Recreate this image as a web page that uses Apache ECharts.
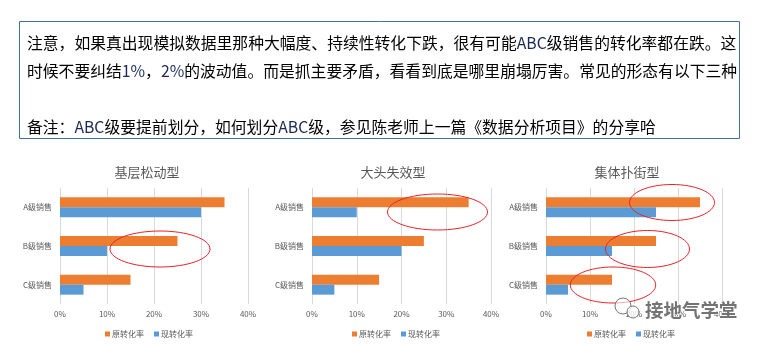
<!DOCTYPE html>
<html>
<head>
<meta charset="utf-8">
<script src="https://cdn.jsdelivr.net/npm/echarts@6/dist/echarts.min.js"></script>
<style>
html,body{margin:0;padding:0;background:#fff;}
#main{width:761px;height:344px;}
</style>
</head>
<body>
<div id="main"></div>
<script>
// ---- data ----
const categories = ['A级销售', 'B级销售', 'C级销售'];
const seriesNames = ['原转化率', '现转化率'];
const chartTitles = ['基层松动型', '大头失效型', '集体扑街型'];
const xTicks = [0, 0.1, 0.2, 0.3, 0.4];
// chart 1: 基层松动型
const oldRate1 = [0.35, 0.25, 0.15];
const newRate1 = [0.30, 0.10, 0.05];
// chart 2: 大头失效型
const oldRate2 = [0.35, 0.25, 0.15];
const newRate2 = [0.10, 0.20, 0.05];
// chart 3: 集体扑街型
const oldRate3 = [0.35, 0.25, 0.15];
const newRate3 = [0.25, 0.15, 0.05];
const noteLines = [
  '注意，如果真出现模拟数据里那种大幅度、持续性转化下跌，很有可能{b|ABC}级销售的转化率都在跌。这',
  '时候不要纠结{b|1%}，{b|2%}的波动值。而是抓主要矛盾，看看到底是哪里崩塌厉害。常见的形态有以下三种',
  '备注：{b|ABC}级要提前划分，如何划分{b|ABC}级，参见陈老师上一篇《数据分析项目》的分享哈'
];
const watermark = '接地气学堂';

const oldData = [oldRate1, oldRate2, oldRate3];
const newData = [newRate1, newRate2, newRate3];

// ---- layout ----
const FONT = '"Noto Sans CJK SC", "Microsoft YaHei", sans-serif';
const ORANGE = '#ED7D31', BLUE = '#5B9BD5', GRAY = '#595959';
const grids = [
  {left: 60, width: 188, top: 188, height: 116},
  {left: 312, width: 179, top: 188, height: 116},
  {left: 546, width: 176, top: 188, height: 116}
];
const titleX = [142, 388, 622];
const legendX = [100, 347, 582];

const chart = echarts.init(document.getElementById('main'));
const option = {
  backgroundColor: '#fff',
  animation: false,
  textStyle: {fontFamily: FONT},
  title: chartTitles.map((t, i) => ({
    text: t, left: titleX[i], top: 161, textAlign: 'center',
    textStyle: {fontSize: 13, fontWeight: 'normal', color: GRAY, fontFamily: FONT}
  })),
  legend: grids.map((g, i) => ({
    data: seriesNames, left: legendX[i], top: 325,
    itemWidth: 5, itemHeight: 5, itemGap: 10, icon: 'rect',
    textStyle: {fontSize: 8, color: GRAY, fontFamily: FONT, padding: [0, 0, 0, -3]}
  })),
  grid: grids.map(g => Object.assign({containLabel: false}, g)),
  xAxis: grids.map((g, i) => ({
    type: 'value', gridIndex: i, min: xTicks[0], max: xTicks[xTicks.length - 1], interval: 0.1,
    axisLine: {show: false}, axisTick: {show: false},
    splitLine: {show: true, lineStyle: {color: '#d9d9d9', width: 1}},
    axisLabel: {fontSize: 8, color: GRAY, margin: 6, fontFamily: FONT,
      formatter: v => Math.round(v * 100) + '%'}
  })),
  yAxis: grids.map((g, i) => ({
    type: 'category', gridIndex: i, data: categories, inverse: true,
    axisLine: {show: false}, axisTick: {show: false}, splitLine: {show: false},
    axisLabel: {fontSize: 8, color: GRAY, margin: 8, fontFamily: FONT}
  })),
  series: [],
  graphic: []
};
for (let i = 0; i < 3; i++) {
  option.series.push({
    name: seriesNames[0], type: 'bar', xAxisIndex: i, yAxisIndex: i,
    data: oldData[i], barWidth: 10, barGap: '0%', itemStyle: {color: ORANGE}
  });
  option.series.push({
    name: seriesNames[1], type: 'bar', xAxisIndex: i, yAxisIndex: i,
    data: newData[i], barWidth: 10, barGap: '0%', itemStyle: {color: BLUE}
  });
}

// text box
const lineY = [43, 71, 127];
option.graphic.push({
  type: 'rect', shape: {x: 19.5, y: 21.5, width: 720, height: 117},
  style: {fill: '#fff', stroke: '#41719C', lineWidth: 1}, z: 1
});
noteLines.forEach((t, i) => {
  option.graphic.push({
    type: 'text', x: 27, y: lineY[i], z: 2,
    style: {text: t, fill: '#000', font: '15.8px ' + FONT, verticalAlign: 'middle',
      rich: {b: {fill: '#1c2a55', fontSize: 15.8, fontFamily: FONT}}}
  });
});
// red annotation ellipses
const ellipses = [
  [160, 249, 50, 18], [437.5, 212, 50, 18],
  [672, 202.5, 42.5, 18], [647.5, 249, 42, 18.5], [613, 285, 42.7, 18]
];
ellipses.forEach(e => {
  option.graphic.push({
    type: 'ellipse', shape: {cx: e[0], cy: e[1], rx: e[2], ry: e[3]},
    style: {fill: 'none', stroke: '#E8222A', lineWidth: 1}, z: 10
  });
});
// watermark
option.graphic.push({
  type: 'circle', shape: {cx: 623, cy: 306, r: 8}, style: {fill: 'rgba(255,255,255,0.6)', stroke: '#777', lineWidth: 1}, z: 11
});
option.graphic.push({
  type: 'circle', shape: {cx: 633, cy: 312, r: 6}, style: {fill: 'rgba(255,255,255,0.8)', stroke: '#777', lineWidth: 1}, z: 12
});
option.graphic.push({
  type: 'text', x: 645, y: 310, z: 12,
  style: {text: watermark, fill: '#737373', font: 'bold 18.5px ' + FONT, verticalAlign: 'middle',
    stroke: '#fff', lineWidth: 1}
});
chart.setOption(option);
</script>
</body>
</html>
